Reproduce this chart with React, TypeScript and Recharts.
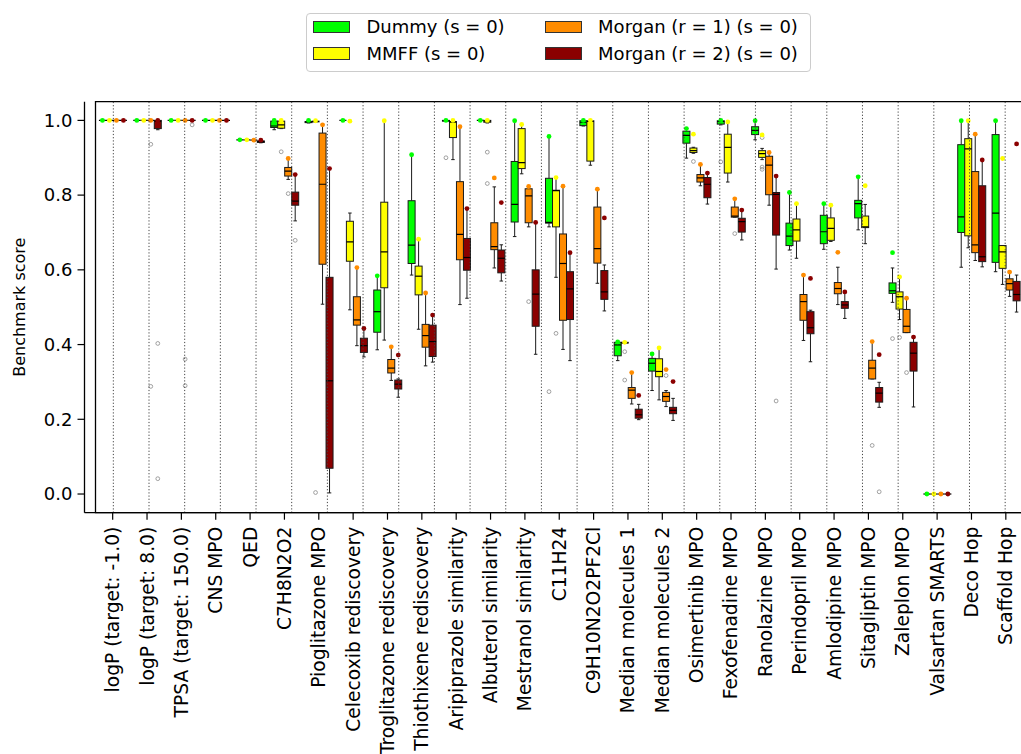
import { ComposedChart, Bar, XAxis, YAxis, ReferenceLine, ReferenceArea, Legend, Label } from "recharts";

const categories = [
  "logP (target: -1.0)",
  "logP (target: 8.0)",
  "TPSA (target: 150.0)",
  "CNS MPO",
  "QED",
  "C7H8N2O2",
  "Pioglitazone MPO",
  "Celecoxib rediscovery",
  "Troglitazone rediscovery",
  "Thiothixene rediscovery",
  "Aripiprazole similarity",
  "Albuterol similarity",
  "Mestranol similarity",
  "C11H24",
  "C9H10N2O2PF2Cl",
  "Median molecules 1",
  "Median molecules 2",
  "Osimertinib MPO",
  "Fexofenadine MPO",
  "Ranolazine MPO",
  "Perindopril MPO",
  "Amlodipine MPO",
  "Sitagliptin MPO",
  "Zaleplon MPO",
  "Valsartan SMARTS",
  "Deco Hop",
  "Scaffold Hop",
];

// each box: [whisker low, q1, median, q3, whisker high, best score]
const dummyBoxes = [
  [1, 1, 1, 1, 1, 1],
  [1, 1, 1, 1, 1, 1],
  [1, 1, 1, 1, 1, 1],
  [1, 1, 1, 1, 1, 1],
  [0.948, 0.948, 0.948, 0.948, 0.948, 0.948],
  [0.975, 0.981, 0.985, 0.998, 1.0, 1.0],
  [0.993, 0.994, 0.996, 0.997, 1.0, 1.0],
  [1, 1, 1, 1, 1, 1],
  [0.386, 0.433, 0.488, 0.546, 0.584, 0.584],
  [0.586, 0.617, 0.666, 0.785, 0.908, 0.908],
  [0.997, 0.998, 0.999, 1.0, 1.0, 1.0],
  [1, 1, 1, 1, 1, 1],
  [0.689, 0.728, 0.775, 0.89, 0.999, 0.999],
  [0.715, 0.725, 0.727, 0.845, 0.957, 0.957],
  [0.985, 0.986, 0.995, 0.999, 1.0, 1.0],
  [0.357, 0.37, 0.399, 0.406, 0.407, 0.407],
  [0.277, 0.329, 0.35, 0.363, 0.375, 0.375],
  [0.899, 0.939, 0.96, 0.971, 0.978, 0.978],
  [0.988, 0.99, 0.997, 0.999, 1.0, 1.0],
  [0.948, 0.962, 0.973, 0.983, 0.999, 0.999],
  [0.653, 0.665, 0.69, 0.725, 0.807, 0.807],
  [0.655, 0.67, 0.702, 0.746, 0.777, 0.777],
  [0.707, 0.739, 0.777, 0.786, 0.849, 0.849],
  [0.513, 0.537, 0.544, 0.565, 0.605, 0.646],
  [0, 0, 0, 0, 0, 0],
  [0.607, 0.7, 0.742, 0.935, 0.999, 0.999],
  [0.595, 0.62, 0.752, 0.962, 0.999, 0.999],
];

const mmffBoxes = [
  [1, 1, 1, 1, 1, 1],
  [1, 1, 1, 1, 1, 1],
  [1, 1, 1, 1, 1, 1],
  [1, 1, 1, 1, 1, 1],
  [0.948, 0.948, 0.948, 0.948, 0.948, 0.948],
  [0.978, 0.979, 0.988, 0.998, 1.0, 1.0],
  [0.996, 0.996, 0.997, 0.998, 0.999, 0.999],
  [0.493, 0.623, 0.675, 0.73, 0.752, 0.998],
  [0.412, 0.552, 0.648, 0.781, 0.999, 0.999],
  [0.441, 0.533, 0.583, 0.61, 0.682, 0.682],
  [0.895, 0.954, 0.995, 0.997, 1.0, 1.0],
  [0.993, 0.995, 0.998, 1.0, 1.0, 1.0],
  [0.857, 0.871, 0.887, 0.978, 0.989, 0.989],
  [0.58, 0.715, 0.812, 0.813, 0.847, 0.847],
  [0.88, 0.891, 0.997, 0.999, 1.0, 1.0],
  [0.404, 0.404, 0.405, 0.406, 0.406, 0.406],
  [0.252, 0.314, 0.328, 0.362, 0.391, 0.391],
  [0.912, 0.914, 0.919, 0.926, 0.928, 0.963],
  [0.835, 0.859, 0.928, 0.963, 0.996, 0.996],
  [0.895, 0.901, 0.911, 0.919, 0.925, 0.961],
  [0.631, 0.677, 0.707, 0.736, 0.777, 0.777],
  [0.676, 0.679, 0.711, 0.739, 0.773, 0.773],
  [0.67, 0.713, 0.715, 0.744, 0.775, 0.825],
  [0.467, 0.495, 0.528, 0.541, 0.581, 0.581],
  [0, 0, 0, 0, 0, 0],
  [0.659, 0.691, 0.924, 0.951, 0.999, 0.999],
  [0.561, 0.604, 0.648, 0.665, 0.665, 0.898],
];

const morgan1Boxes = [
  [1, 1, 1, 1, 1, 1],
  [1, 1, 1, 1, 1, 1],
  [1, 1, 1, 1, 1, 1],
  [1, 1, 1, 1, 1, 1],
  [0.947, 0.947, 0.947, 0.947, 0.947, 0.947],
  [0.842, 0.851, 0.864, 0.874, 0.898, 0.898],
  [0.508, 0.615, 0.829, 0.966, 0.988, 0.988],
  [0.397, 0.452, 0.466, 0.528, 0.606, 0.606],
  [0.304, 0.324, 0.337, 0.36, 0.394, 0.394],
  [0.343, 0.393, 0.424, 0.454, 0.538, 0.538],
  [0.507, 0.627, 0.695, 0.836, 0.983, 0.983],
  [0.605, 0.654, 0.662, 0.726, 0.822, 0.846],
  [0.715, 0.726, 0.798, 0.817, 0.823, 0.823],
  [0.387, 0.465, 0.617, 0.696, 0.824, 0.824],
  [0.564, 0.618, 0.657, 0.768, 0.816, 0.816],
  [0.241, 0.256, 0.278, 0.285, 0.325, 0.325],
  [0.234, 0.248, 0.261, 0.272, 0.277, 0.333],
  [0.825, 0.835, 0.846, 0.855, 0.882, 0.882],
  [0.741, 0.741, 0.744, 0.768, 0.79, 0.79],
  [0.773, 0.801, 0.88, 0.904, 0.914, 0.914],
  [0.411, 0.465, 0.515, 0.534, 0.586, 0.586],
  [0.507, 0.536, 0.55, 0.566, 0.607, 0.647],
  [0.308, 0.308, 0.337, 0.358, 0.408, 0.408],
  [0.432, 0.432, 0.449, 0.494, 0.524, 0.524],
  [0, 0, 0, 0, 0, 0],
  [0.625, 0.646, 0.667, 0.863, 0.963, 0.963],
  [0.529, 0.546, 0.563, 0.576, 0.594, 0.594],
];

const morgan2Boxes = [
  [1, 1, 1, 1, 1, 1],
  [0.975, 0.978, 0.998, 1.0, 1.0, 1.0],
  [1, 1, 1, 1, 1, 1],
  [1, 1, 1, 1, 1, 1],
  [0.94, 0.941, 0.943, 0.945, 0.947, 0.947],
  [0.731, 0.773, 0.784, 0.808, 0.855, 0.855],
  [0.003, 0.069, 0.303, 0.58, 0.871, 0.871],
  [0.367, 0.379, 0.397, 0.417, 0.443, 0.443],
  [0.259, 0.281, 0.294, 0.305, 0.308, 0.372],
  [0.353, 0.368, 0.408, 0.452, 0.479, 0.479],
  [0.524, 0.599, 0.633, 0.684, 0.764, 0.764],
  [0.57, 0.592, 0.631, 0.653, 0.667, 0.78],
  [0.374, 0.449, 0.535, 0.6, 0.727, 0.727],
  [0.357, 0.467, 0.549, 0.595, 0.646, 0.646],
  [0.49, 0.521, 0.541, 0.598, 0.613, 0.739],
  [0.199, 0.203, 0.212, 0.227, 0.24, 0.264],
  [0.197, 0.215, 0.224, 0.232, 0.256, 0.301],
  [0.776, 0.793, 0.829, 0.847, 0.859, 0.859],
  [0.68, 0.701, 0.729, 0.738, 0.76, 0.76],
  [0.602, 0.693, 0.802, 0.807, 0.851, 0.851],
  [0.354, 0.429, 0.445, 0.488, 0.492, 0.577],
  [0.47, 0.497, 0.506, 0.515, 0.541, 0.541],
  [0.232, 0.246, 0.27, 0.285, 0.299, 0.373],
  [0.233, 0.329, 0.377, 0.406, 0.42, 0.42],
  [0, 0, 0, 0, 0, 0],
  [0.608, 0.622, 0.635, 0.825, 0.894, 0.894],
  [0.487, 0.517, 0.534, 0.569, 0.586, 0.937],
];

// outliers (grey circles), one list per category
const dummyFliers = [[], [], [], [], [], [], [], [], [], [], [0.9], [], [], [0.274], [], [], [], [], [0.889], [], [], [], [], [0.416], [], [], []];
const mmffFliers = [[], [], [], [], [], [0.916], [0.004], [], [], [], [], [0.915, 0.831], [], [0.43], [], [0.381, 0.305], [], [0.89], [], [0.954, 0.875, 0.869], [], [], [], [0.419], [], [], []];
const morgan1Fliers = [[], [0.936, 0.288], [0.361, 0.29], [], [], [0.804], [], [], [], [], [], [], [0.515], [], [], [], [0.317], [], [0.697], [], [], [], [0.13], [0.325], [], [], []];
const morgan2Fliers = [[], [0.403, 0.041], [0.988], [], [], [0.679], [], [], [], [], [], [], [], [], [], [], [], [], [], [0.249], [], [], [0.006], [], [], [], []];

const yTicks = [0, 0.2, 0.4, 0.6, 0.8, 1.0];
const yDomain = [-0.05, 1.05];

// Bars span 0..1 so the shape can map any score through the y scale
const scaleProbe = [0, 1];

const series = [
  { key: "dummy", name: "Dummy (s = 0)", color: "#00ff00", boxes: dummyBoxes, fliers: dummyFliers },
  { key: "mmff", name: "MMFF (s = 0)", color: "#ffff00", boxes: mmffBoxes, fliers: mmffFliers },
  { key: "morgan1", name: "Morgan (r = 1) (s = 0)", color: "#ff8c00", boxes: morgan1Boxes, fliers: morgan1Fliers },
  { key: "morgan2", name: "Morgan (r = 2) (s = 0)", color: "#8b0000", boxes: morgan2Boxes, fliers: morgan2Fliers },
];

const rows = categories.map((name, idx) => ({ name, idx }));

const makeBoxShape = (boxes: number[][], fliers: number[][], color: string) => (props: any) => {
  const { x, y, width, height, payload } = props;
  const i = payload.idx;
  const [lo, q1, med, q3, hi, best] = boxes[i];
  const top = Math.min(y, y + height);
  const bottom = Math.max(y, y + height);
  const py = (v: number) => bottom - (bottom - top) * v;
  const cx = x + width / 2;
  const cap = width / 4;
  const ink = "#1a1a1a";
  return (
    <g>
      <line x1={cx} x2={cx} y1={py(hi)} y2={py(q3)} stroke={ink} strokeWidth={1} />
      <line x1={cx} x2={cx} y1={py(q1)} y2={py(lo)} stroke={ink} strokeWidth={1} />
      <line x1={cx - cap} x2={cx + cap} y1={py(hi)} y2={py(hi)} stroke={ink} strokeWidth={1} />
      <line x1={cx - cap} x2={cx + cap} y1={py(lo)} y2={py(lo)} stroke={ink} strokeWidth={1} />
      <rect x={x} y={py(q3)} width={width} height={Math.max(0, py(q1) - py(q3))} fill={color} stroke={ink} strokeWidth={1} />
      <line x1={x} x2={x + width} y1={py(med)} y2={py(med)} stroke="#000" strokeWidth={1.2} />
      {fliers[i].map((f, k) => (
        <circle key={k} cx={cx} cy={py(f)} r={1.9} fill="none" stroke="#8a8a8a" strokeWidth={0.8} />
      ))}
      <circle cx={cx} cy={py(best)} r={2.4} fill={color} />
    </g>
  );
};

const CategoryTick = (props: any) => {
  const { x, y, payload } = props;
  return (
    <text
      x={x}
      y={y}
      transform={`rotate(-90, ${x}, ${y})`}
      textAnchor="end"
      dominantBaseline="central"
      fontSize={18.7}
      fill="#000"
    >
      {payload.value}
    </text>
  );
};

const YTitle = (props: any) => {
  const { viewBox } = props;
  const x = viewBox.x + 20;
  const y = viewBox.y + viewBox.height / 2;
  return (
    <text x={x} y={y} transform={`rotate(-90, ${x}, ${y})`} textAnchor="middle" dominantBaseline="central" fontSize={16} fill="#000">
      Benchmark score
    </text>
  );
};

const LegendBox = () => (
  <div
    style={{
      position: "relative",
      width: 505,
      height: 59,
      boxSizing: "border-box",
      border: "1.3px solid #cccccc",
      borderRadius: 4,
      background: "#fff",
      fontSize: 18,
      color: "#000",
    }}
  >
    {series.map((s, i) => {
      const col = Math.floor(i / 2);
      const row = i % 2;
      return (
        <div key={s.key}>
          <div
            style={{
              position: "absolute",
              left: 6 + col * 232.4,
              top: 7 + row * 26.7,
              width: 37,
              height: 12.7,
              boxSizing: "border-box",
              background: s.color,
              border: "1px solid #333",
            }}
          />
          <div
            style={{
              position: "absolute",
              left: 59.5 + col * 231.6,
              top: 13.4 + row * 27 - 11,
              lineHeight: "22px",
              whiteSpace: "nowrap",
            }}
          >
            {s.name}
          </div>
        </div>
      );
    })}
  </div>
);

export default function App() {
  return (
    <div
      style={{
        position: "fixed",
        left: 0,
        top: 0,
        width: 1021,
        height: 754,
        overflow: "hidden",
        background: "#fff",
        fontFamily: "'DejaVu Sans', sans-serif",
      }}
    >
      <ComposedChart
        width={1054}
        height={754}
        data={rows}
        margin={{ top: 101.7, right: 20, bottom: 0, left: 0 }}
        barCategoryGap="10%"
        barGap={0}
      >
        <XAxis
          dataKey="name"
          type="category"
          interval={0}
          height={241.3}
          padding={{ left: 11, right: 11 }}
          tick={<CategoryTick />}
          tickSize={7}
          tickMargin={7}
          tickLine={{ stroke: "#000", strokeWidth: 1.2 }}
          axisLine={{ stroke: "#000", strokeWidth: 1.3 }}
        />
        <XAxis
          xAxisId="num"
          type="number"
          domain={[-0.5, categories.length - 0.5]}
          padding={{ left: 11, right: 11 }}
          allowDataOverflow
          hide
        />
        <YAxis
          type="number"
          domain={yDomain}
          ticks={yTicks}
          allowDataOverflow
          width={84.5}
          tickSize={7}
          tickMargin={5}
          tickFormatter={(v: number) => v.toFixed(1)}
          tick={{ fontSize: 18, fill: "#000" }}
          tickLine={{ stroke: "#000", strokeWidth: 1.2 }}
          axisLine={{ stroke: "#000", strokeWidth: 1.3 }}
          label={<Label content={<YTitle />} />}
        />
        <ReferenceArea
          y1={yDomain[0]}
          y2={yDomain[1]}
          fill="none"
          stroke="#000"
          strokeWidth={1.3}
          ifOverflow="visible"
        />
        {categories.slice(1).map((_, k) => (
          <ReferenceLine
            key={k}
            xAxisId="num"
            x={k + 0.5}
            stroke="#444"
            strokeWidth={1}
            strokeDasharray="1.2 2"
          />
        ))}
        {series.map((s) => (
          <Bar
            key={s.key}
            name={s.name}
            dataKey={() => scaleProbe}
            fill={s.color}
            isAnimationActive={false}
            shape={makeBoxShape(s.boxes, s.fliers, s.color)}
          />
        ))}
        <Legend
          layout="horizontal"
          verticalAlign="middle"
          align="center"
          wrapperStyle={{ top: 12.7, left: 306, width: 505, height: 59 }}
          content={<LegendBox />}
        />
      </ComposedChart>
    </div>
  );
}
